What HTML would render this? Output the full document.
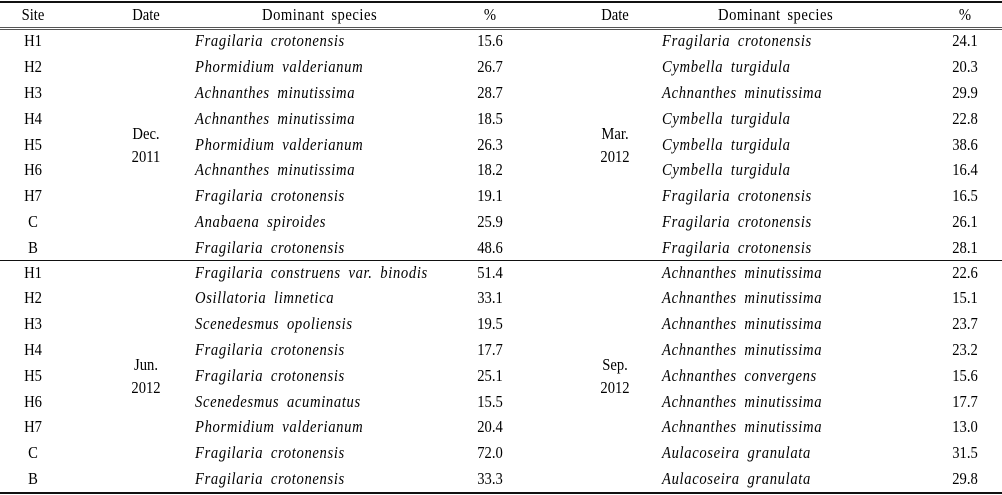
<!DOCTYPE html>
<html><head><meta charset="utf-8"><style>
body{margin:0;width:1002px;height:495px;background:#fff;position:relative;overflow:hidden;font-family:"Liberation Serif",serif;font-size:17px;color:#000}
div.t{position:absolute;line-height:20px;white-space:nowrap;transform:scaleX(0.86);transform-origin:center}
.s{left:0;width:66px;text-align:center}
.d{left:106px;width:80px;text-align:center}
div.sp{left:195px;font-style:italic;letter-spacing:0.75px;word-spacing:4px;transform-origin:left}
.p{left:455px;width:70px;text-align:center}
.d2{left:575px;width:80px;text-align:center}
div.sp2{left:662px;font-style:italic;letter-spacing:0.75px;word-spacing:4px;transform-origin:left}
.p2{left:930px;width:70px;text-align:center}
div.h{letter-spacing:0.6px;word-spacing:3px;transform-origin:left}
.l{position:absolute;left:0;width:1002px;background:#111}
</style></head><body>
<div class="l" style="top:1px;height:2px"></div>
<div class="l" style="top:27px;height:1px;background:#555"></div>
<div class="l" style="top:29px;height:1px;background:#555"></div>
<div class="l" style="top:260px;height:1px"></div>
<div class="l" style="top:492px;height:2px"></div>

<div class="t s" style="top:5px">Site</div><div class="t d" style="top:5px">Date</div><div class="t h" style="top:5px;left:262px">Dominant species</div><div class="t p" style="top:5px">%</div>
<div class="t d2" style="top:5px">Date</div><div class="t h" style="top:5px;left:718px">Dominant species</div><div class="t p2" style="top:5px">%</div>

<div class="t s" style="top:31px">H1</div><div class="t sp" style="top:31px">Fragilaria crotonensis</div><div class="t p" style="top:31px">15.6</div><div class="t sp2" style="top:31px">Fragilaria crotonensis</div><div class="t p2" style="top:31px">24.1</div>
<div class="t s" style="top:57px">H2</div><div class="t sp" style="top:57px">Phormidium valderianum</div><div class="t p" style="top:57px">26.7</div><div class="t sp2" style="top:57px">Cymbella turgidula</div><div class="t p2" style="top:57px">20.3</div>
<div class="t s" style="top:83px">H3</div><div class="t sp" style="top:83px">Achnanthes minutissima</div><div class="t p" style="top:83px">28.7</div><div class="t sp2" style="top:83px">Achnanthes minutissima</div><div class="t p2" style="top:83px">29.9</div>
<div class="t s" style="top:109px">H4</div><div class="t sp" style="top:109px">Achnanthes minutissima</div><div class="t p" style="top:109px">18.5</div><div class="t sp2" style="top:109px">Cymbella turgidula</div><div class="t p2" style="top:109px">22.8</div>
<div class="t s" style="top:135px">H5</div><div class="t sp" style="top:135px">Phormidium valderianum</div><div class="t p" style="top:135px">26.3</div><div class="t sp2" style="top:135px">Cymbella turgidula</div><div class="t p2" style="top:135px">38.6</div>
<div class="t s" style="top:160px">H6</div><div class="t sp" style="top:160px">Achnanthes minutissima</div><div class="t p" style="top:160px">18.2</div><div class="t sp2" style="top:160px">Cymbella turgidula</div><div class="t p2" style="top:160px">16.4</div>
<div class="t s" style="top:186px">H7</div><div class="t sp" style="top:186px">Fragilaria crotonensis</div><div class="t p" style="top:186px">19.1</div><div class="t sp2" style="top:186px">Fragilaria crotonensis</div><div class="t p2" style="top:186px">16.5</div>
<div class="t s" style="top:212px">C</div><div class="t sp" style="top:212px">Anabaena spiroides</div><div class="t p" style="top:212px">25.9</div><div class="t sp2" style="top:212px">Fragilaria crotonensis</div><div class="t p2" style="top:212px">26.1</div>
<div class="t s" style="top:238px">B</div><div class="t sp" style="top:238px">Fragilaria crotonensis</div><div class="t p" style="top:238px">48.6</div><div class="t sp2" style="top:238px">Fragilaria crotonensis</div><div class="t p2" style="top:238px">28.1</div>
<div class="t d" style="top:124px">Dec.</div><div class="t d" style="top:147px">2011</div>
<div class="t d2" style="top:124px">Mar.</div><div class="t d2" style="top:147px">2012</div>

<div class="t s" style="top:263px">H1</div><div class="t sp" style="top:263px">Fragilaria construens var. binodis</div><div class="t p" style="top:263px">51.4</div><div class="t sp2" style="top:263px">Achnanthes minutissima</div><div class="t p2" style="top:263px">22.6</div>
<div class="t s" style="top:288px">H2</div><div class="t sp" style="top:288px">Osillatoria limnetica</div><div class="t p" style="top:288px">33.1</div><div class="t sp2" style="top:288px">Achnanthes minutissima</div><div class="t p2" style="top:288px">15.1</div>
<div class="t s" style="top:314px">H3</div><div class="t sp" style="top:314px">Scenedesmus opoliensis</div><div class="t p" style="top:314px">19.5</div><div class="t sp2" style="top:314px">Achnanthes minutissima</div><div class="t p2" style="top:314px">23.7</div>
<div class="t s" style="top:340px">H4</div><div class="t sp" style="top:340px">Fragilaria crotonensis</div><div class="t p" style="top:340px">17.7</div><div class="t sp2" style="top:340px">Achnanthes minutissima</div><div class="t p2" style="top:340px">23.2</div>
<div class="t s" style="top:366px">H5</div><div class="t sp" style="top:366px">Fragilaria crotonensis</div><div class="t p" style="top:366px">25.1</div><div class="t sp2" style="top:366px">Achnanthes convergens</div><div class="t p2" style="top:366px">15.6</div>
<div class="t s" style="top:392px">H6</div><div class="t sp" style="top:392px">Scenedesmus acuminatus</div><div class="t p" style="top:392px">15.5</div><div class="t sp2" style="top:392px">Achnanthes minutissima</div><div class="t p2" style="top:392px">17.7</div>
<div class="t s" style="top:417px">H7</div><div class="t sp" style="top:417px">Phormidium valderianum</div><div class="t p" style="top:417px">20.4</div><div class="t sp2" style="top:417px">Achnanthes minutissima</div><div class="t p2" style="top:417px">13.0</div>
<div class="t s" style="top:443px">C</div><div class="t sp" style="top:443px">Fragilaria crotonensis</div><div class="t p" style="top:443px">72.0</div><div class="t sp2" style="top:443px">Aulacoseira granulata</div><div class="t p2" style="top:443px">31.5</div>
<div class="t s" style="top:469px">B</div><div class="t sp" style="top:469px">Fragilaria crotonensis</div><div class="t p" style="top:469px">33.3</div><div class="t sp2" style="top:469px">Aulacoseira granulata</div><div class="t p2" style="top:469px">29.8</div>
<div class="t d" style="top:355px">Jun.</div><div class="t d" style="top:378px">2012</div>
<div class="t d2" style="top:355px">Sep.</div><div class="t d2" style="top:378px">2012</div>
</body></html>
